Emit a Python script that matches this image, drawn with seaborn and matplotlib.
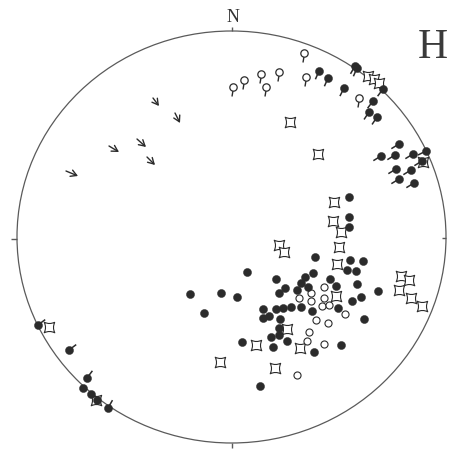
import numpy as np
import pandas as pd
import matplotlib
matplotlib.use("Agg")
import matplotlib.pyplot as plt
from matplotlib.patches import Ellipse
from matplotlib.path import Path
from matplotlib.collections import LineCollection
import seaborn as sns

# ---- data (plot coordinates, y grows downward) ----
# plain filled dots
dot_x = [349, 349, 349, 315, 350, 363, 347, 356, 247, 313, 305, 276, 330, 357,
         285, 301, 308, 297, 279, 336, 378, 190, 221, 237, 361, 352, 204, 263,
         276, 283, 291, 301, 312, 338, 263, 269, 280, 364, 279, 271, 279, 287,
         242, 273, 314, 341, 260, 83, 91, 97]
dot_y = [197, 217, 227, 257, 260, 261, 270, 271, 272, 273, 277, 279, 279, 284,
         288, 283, 287, 290, 293, 286, 291, 294, 293, 297, 297, 301, 313, 309,
         309, 308, 307, 307, 311, 308, 318, 316, 319, 319, 328, 337, 335, 341,
         342, 347, 352, 345, 386, 388, 394, 400]

# filled dots with a tail (tail direction given as screen vector)
pin_x = [319, 328, 344, 355, 357, 383, 373, 369, 377, 399, 381, 395, 413, 396,
         411, 399, 414, 426, 422, 38, 69, 87, 108]
pin_y = [71, 78, 88, 66, 68, 89, 101, 112, 117, 144, 156, 155, 154, 169,
         170, 179, 183, 151, 161, 325, 350, 378, 408]
pin_dx = [-0.4, -0.4, -0.45, -0.5, -0.4, -0.6, -0.6, -0.55, -0.55, -0.85, -0.85,
          -0.85, -0.85, -0.85, -0.85, -0.85, -0.85, -0.9, -0.85, 0.8, 0.8, 0.6, 0.5]
pin_dy = [0.92, 0.92, 0.9, 0.87, 0.92, 0.8, 0.8, 0.83, 0.83, 0.52, 0.52,
          0.52, 0.52, 0.52, 0.52, 0.52, 0.52, 0.45, 0.52, -0.6, -0.6, -0.8, -0.87]

# open circles with a tail pointing down
opin_x = [304, 233, 244, 261, 266, 279, 306, 359]
opin_y = [53, 87, 80, 74, 87, 72, 77, 98]

# plain open circles
ring_x = [324, 299, 311, 324, 311, 322, 329, 345, 316, 328, 309, 307, 324, 297]
ring_y = [287, 298, 293, 298, 301, 306, 305, 314, 320, 323, 332, 341, 344, 375]

# four-pointed stars
star_x = [368, 374, 379, 290, 318, 334, 333, 341, 279, 284, 339, 337, 336,
          401, 409, 399, 411, 422, 287, 256, 300, 220, 275, 423, 49, 96]
star_y = [76, 79, 83, 122, 154, 202, 221, 232, 245, 252, 247, 264, 296,
          276, 280, 290, 298, 306, 329, 345, 348, 362, 368, 162, 327, 400]

# lineation arrows: start and end
arr_x0 = [153, 175, 137, 109, 147, 66]
arr_y0 = [98, 113, 139, 146, 157, 171]
arr_x1 = [159, 180, 146, 119, 155, 78]
arr_y1 = [106, 123, 147, 152, 165, 176]

# primitive circle
circ_cx, circ_cy = 231.5, 237
circ_w, circ_h = 429, 412

ink = "#2b2b2b"
line = "#5a5a5a"

sns.set_theme(style="white")
plt.rcParams["font.family"] = ["Liberation Serif", "DejaVu Serif"]

fig = plt.figure(figsize=(4.49, 4.54), dpi=100)
ax = fig.add_axes([0, 0, 1, 1])
ax.set_xlim(0, 449)
ax.set_ylim(454, 0)
ax.set_axis_off()

# primitive circle and cardinal ticks
ax.add_patch(Ellipse((circ_cx, circ_cy), circ_w, circ_h, fill=False,
                     edgecolor=line, lw=0.9, zorder=1))
top = circ_cy - circ_h / 2
bot = circ_cy + circ_h / 2
lef = circ_cx - circ_w / 2
rig = circ_cx + circ_w / 2
ticks = [[(circ_cx, top), (circ_cx, top - 4)],
         [(circ_cx, bot), (circ_cx, bot + 5)],
         [(lef, circ_cy + 2), (lef - 6, circ_cy + 2)],
         [(rig, circ_cy + 1), (rig - 4, circ_cy + 1)]]
ax.add_collection(LineCollection(ticks, colors=line, lw=1.0, zorder=1))
ax.text(circ_cx + 1, top - 5, "N", ha="center", va="bottom", fontsize=13,
        color="#333333")
ax.text(433, 48, "H", ha="center", va="center", fontsize=30,
        color="#3a3a3a")

# tails for filled pins
px = np.array(pin_x, float)
py = np.array(pin_y, float)
tl = 9.0
segs = [[(x, y), (x + dx * tl, y + dy * tl)]
        for x, y, dx, dy in zip(px, py, pin_dx, pin_dy)]
ax.add_collection(LineCollection(segs, colors=ink, lw=1.1, zorder=2))

# tails for open pins
ox = np.array(opin_x, float)
oy = np.array(opin_y, float)
osegs = [[(x, y + 3.5), (x - 1, y + 9.5)] for x, y in zip(ox, oy)]
ax.add_collection(LineCollection(osegs, colors=ink, lw=1.0, zorder=2))

# four-pointed star marker: square body with short diagonal tips
c = 0.5
verts = [(1, 1), (0, c), (-1, 1), (-c, 0), (-1, -1), (0, -c), (1, -1), (c, 0), (1, 1)]
codes = [Path.MOVETO, Path.CURVE3, Path.CURVE3, Path.CURVE3, Path.CURVE3,
         Path.CURVE3, Path.CURVE3, Path.CURVE3, Path.CURVE3]
star = Path(verts, codes)

sns.scatterplot(x=star_x, y=star_y, marker=star, s=58, facecolor="white",
                edgecolor=ink, linewidth=0.8, ax=ax, zorder=3)
sns.scatterplot(x=ring_x, y=ring_y, marker="o", s=26, facecolor="white",
                edgecolor=ink, linewidth=0.8, ax=ax, zorder=3)
sns.scatterplot(x=opin_x, y=opin_y, marker="o", s=28, facecolor="white",
                edgecolor=ink, linewidth=0.9, ax=ax, zorder=3)
sns.scatterplot(x=dot_x, y=dot_y, marker="o", s=34, color=ink,
                edgecolor=ink, linewidth=0.3, ax=ax, zorder=4)
sns.scatterplot(x=pin_x, y=pin_y, marker="o", s=34, color=ink,
                edgecolor=ink, linewidth=0.3, ax=ax, zorder=4)

# lineation arrows
for x0, y0, x1, y1 in zip(arr_x0, arr_y0, arr_x1, arr_y1):
    ax.annotate("", xy=(x1, y1), xytext=(x0, y0),
                arrowprops=dict(arrowstyle="->,head_length=0.35,head_width=0.2",
                                color=ink, lw=1.0, shrinkA=0, shrinkB=0))

fig.savefig("out.png", dpi=100, facecolor="white")
